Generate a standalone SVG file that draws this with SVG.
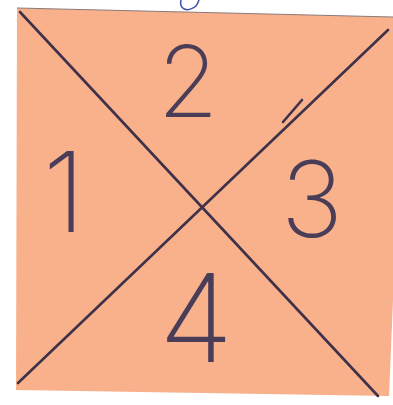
<svg xmlns="http://www.w3.org/2000/svg" width="393" height="405" viewBox="0 0 393 405">
<style>
.ink{stroke:#3f3248;stroke-width:2.6;stroke-linecap:round;fill:none}
.num{font-family:Inter,"Noto Sans",sans-serif;font-weight:200;fill:#4a3d58;text-anchor:middle}
</style>
<rect width="393" height="405" fill="#ffffff"/>
<g id="note">
<polygon points="17,8 393,17 393,300 389,396 16,390" fill="#f9b18b"/>
<line x1="17" y1="8" x2="393" y2="17" stroke="#8a7a78" stroke-width="1"/>
</g>
<path d="M181,0 C179,9 187,13 196,6 C198,3 199,0 199,0" fill="none" stroke="#3f4fa8" stroke-width="1.5"/>
<g id="connectors">
<line class="ink" x1="20" y1="12" x2="378" y2="396"/>
<line class="ink" x1="18" y1="383" x2="388" y2="30"/>
<line class="ink" x1="283" y1="122" x2="302" y2="100" stroke-width="1.2"/>
</g>
<g id="region1"><text class="num" x="64" y="232" font-size="112">1</text></g>
<g id="region2"><text class="num" x="188" y="117" font-size="99">2</text></g>
<g id="region3"><text class="num" x="312" y="237" font-size="105">3</text></g>
<g id="region4"><text class="num" x="196" y="362" font-size="122">4</text></g>
</svg>
